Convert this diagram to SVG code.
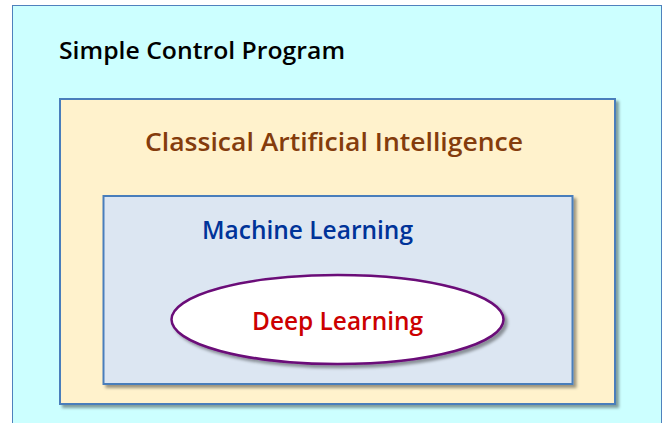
<svg xmlns="http://www.w3.org/2000/svg" width="668" height="423" viewBox="0 0 668 423">
<style>
.t{font-family:"Open Sans","DejaVu Sans",sans-serif;font-weight:600}
.box{stroke:#4A7EBB;stroke-width:2}
</style>
<defs>
<filter id="sh" x="-10%" y="-10%" width="125%" height="125%">
<feDropShadow dx="3" dy="3" stdDeviation="1.8" flood-color="#000" flood-opacity="0.38"/>
</filter>
</defs>
<rect width="668" height="423" fill="#FFFFFF"/>
<g id="simple-control-program">
<rect x="12.5" y="5.5" width="649" height="430" fill="#CCFFFF" stroke="#4F81BD" stroke-width="1"/>
<text class="t" x="59" y="59" font-size="23" fill="#000000" textLength="286" lengthAdjust="spacingAndGlyphs">Simple Control Program</text>
</g>
<g id="classical-ai">
<rect class="box" x="60" y="99" width="555" height="305" fill="#FFF2CC" filter="url(#sh)"/>
<text class="t" x="145" y="151" font-size="25" fill="#843C0C" textLength="378" lengthAdjust="spacingAndGlyphs">Classical Artificial Intelligence</text>
</g>
<g id="machine-learning">
<rect class="box" x="103.5" y="196" width="469" height="188" fill="#DCE6F2" filter="url(#sh)"/>
<text class="t" x="202" y="239" font-size="25" fill="#003399" textLength="211" lengthAdjust="spacingAndGlyphs">Machine Learning</text>
</g>
<g id="deep-learning">
<ellipse cx="337.5" cy="319.5" rx="166" ry="44.5" fill="#FFFFFF" stroke="#6B0A78" stroke-width="2.5" filter="url(#sh)"/>
<text class="t" x="252" y="330" font-size="25" fill="#CC0000" textLength="171" lengthAdjust="spacingAndGlyphs">Deep Learning</text>
</g>
<g id="connectors"/>
</svg>
